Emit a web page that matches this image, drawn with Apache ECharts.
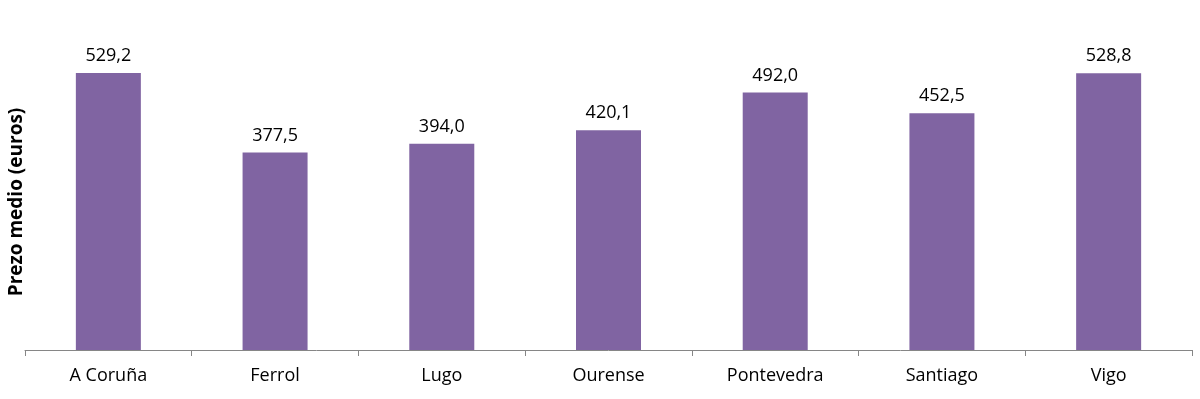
<!DOCTYPE html>
<html><head><meta charset="utf-8">
<script src="https://cdn.jsdelivr.net/npm/echarts@6/dist/echarts.min.js"></script>
<style>html,body{margin:0;padding:0;background:#fff}#c{width:1200px;height:399px}</style>
</head><body><div id="c"></div>
<script>
const categories = ['A Coruña','Ferrol','Lugo','Ourense','Pontevedra','Santiago','Vigo'];
const values = [529.2, 377.5, 394.0, 420.1, 492.0, 452.5, 528.8];
const yName = 'Prezo medio (euros)';

const chart = echarts.init(document.getElementById('c'));
chart.setOption({
  animation: false,
  grid: {left: 25, right: 8, top: 36, bottom: 49, containLabel: false, outerBoundsMode: 'none'},
  xAxis: {
    type: 'category', data: categories,
    axisLine: {lineStyle: {color: '#868686', width: 1}},
    axisTick: {show: true, length: 6, lineStyle: {color: '#868686'}},
    axisLabel: {color: '#000', fontSize: 18, fontFamily: 'Open Sans', margin: 17}
  },
  yAxis: {
    type: 'value', min: 0, max: 600,
    axisLine: {show: false}, axisTick: {show: false}, axisLabel: {show: false},
    splitLine: {show: false},
    name: yName, nameLocation: 'middle', nameGap: -1,
    nameTextStyle: {color: '#000', fontSize: 19, fontWeight: 'bold', fontFamily: 'Open Sans', padding: [0, 0, 0, -18]}
  },
  series: [{
    type: 'bar', data: values, barWidth: 65,
    itemStyle: {color: '#8064A2'},
    label: {show: true, position: 'top', distance: 8, color: '#000', fontSize: 18, fontFamily: 'Open Sans',
      formatter: p => p.value.toFixed(1).replace('.', ',')}
  }]
});
</script></body></html>
